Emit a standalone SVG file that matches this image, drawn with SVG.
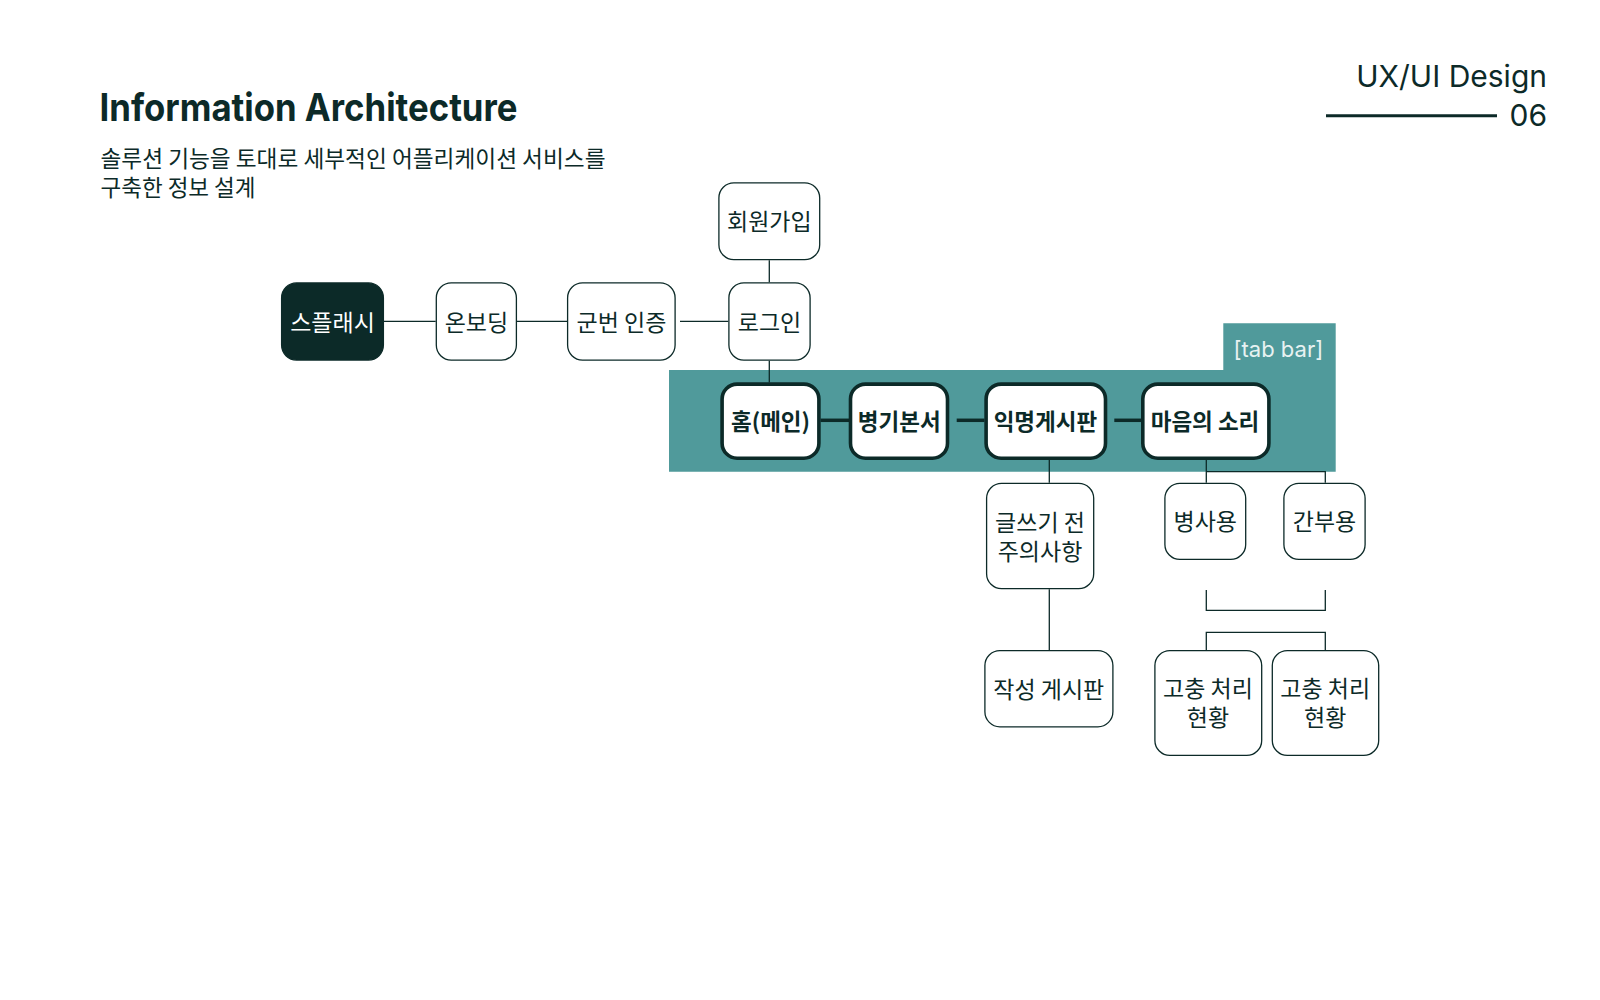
<svg xmlns="http://www.w3.org/2000/svg" width="1600" height="1000" viewBox="0 0 1600 1000">
  <style>
    .bg { fill: #ffffff; }
    .title { font-family: Inter, "Liberation Sans", sans-serif; font-weight: 700; font-size: 38px; fill: #0c2a28; }
    .sub { font-family: "Noto Sans CJK KR", "Noto Sans", sans-serif; font-size: 22.7px; fill: #0c2a28; }
    .corner { font-family: Inter, "Liberation Sans", sans-serif; font-size: 30px; fill: #0c2a28; }
    .box { fill: #ffffff; stroke: #0c2a28; stroke-width: 1.3; }
    .dark { fill: #0c2a28; stroke: #0c2a28; stroke-width: 1.3; }
    .tab { fill: #ffffff; stroke: #0c2a28; stroke-width: 3.6; }
    .lbl { font-family: "Noto Sans CJK KR", "Noto Sans", sans-serif; font-size: 23px; fill: #0c2a28; text-anchor: middle; }
    .lblw { font-family: "Noto Sans CJK KR", "Noto Sans", sans-serif; font-size: 23px; fill: #ffffff; text-anchor: middle; }
    .lblb { font-family: "Noto Sans CJK KR", "Noto Sans", sans-serif; font-size: 22.5px; font-weight: 700; fill: #0c2a28; text-anchor: middle; }
    .band { fill: #509a9b; }
    .tabtxt { font-family: Inter, "Liberation Sans", sans-serif; font-size: 22px; fill: #e8f2f2; }
    .ln { fill: none; stroke: #0c2a28; stroke-width: 1.3; }
    .lnb { fill: none; stroke: #0c2a28; stroke-width: 3.5; }
  </style>
  <rect class="bg" x="0" y="0" width="1600" height="1000"/>

  <g id="header">
    <text class="title" x="99.5" y="120.7" textLength="418" lengthAdjust="spacingAndGlyphs">Information Architecture</text>
    <text class="sub" x="100.5" y="167" textLength="505" lengthAdjust="spacingAndGlyphs">솔루션 기능을 토대로 세부적인 어플리케이션 서비스를</text>
    <text class="sub" x="100.5" y="196" textLength="155" lengthAdjust="spacingAndGlyphs">구축한 정보 설계</text>
  </g>

  <g id="corner-label">
    <text class="corner" x="1547" y="86.7" text-anchor="end">UX/UI Design</text>
    <text class="corner" x="1547" y="126" text-anchor="end">06</text>
    <line x1="1326" y1="115.7" x2="1497" y2="115.7" stroke="#0c2a28" stroke-width="3"/>
  </g>

  <g id="tab-bar">
    <path class="band" d="M669 370 H1223.3 V323.3 H1335.7 V471.7 H669 Z"/>
    <text class="tabtxt" x="1233.5" y="356.5">[tab bar]</text>
  </g>

  <g id="connectors">
    <line class="ln" x1="384" y1="321.3" x2="435.7" y2="321.3"/>
    <line class="ln" x1="517" y1="321.3" x2="567" y2="321.3"/>
    <line class="ln" x1="680" y1="321.3" x2="728.3" y2="321.3"/>
    <line class="ln" x1="769.3" y1="260.3" x2="769.3" y2="282.3"/>
    <line class="ln" x1="769.3" y1="360.7" x2="769.3" y2="382.5"/>
    <line class="lnb" x1="820.5" y1="420.3" x2="849" y2="420.3"/>
    <line class="lnb" x1="956.7" y1="420.3" x2="984.5" y2="420.3"/>
    <line class="lnb" x1="1114.3" y1="420.3" x2="1141.2" y2="420.3"/>
    <line class="ln" x1="1049.3" y1="460" x2="1049.3" y2="482.7"/>
    <path class="ln" d="M1206.3 460 V482.7 M1206.3 471.7 H1325.3 V482.7"/>
    <line class="ln" x1="1049.3" y1="589.3" x2="1049.3" y2="650"/>
    <path class="ln" d="M1206.3 590 V610.3 H1325.3 V590"/>
    <path class="ln" d="M1206.3 650 V632.3 H1325.3 V650"/>
  </g>

  <g id="n-splash">
    <rect class="dark" x="281.6" y="282.9" width="101.8" height="77.2" rx="15"/>
    <text class="lblw" x="332.5" y="330.5">스플래시</text>
  </g>
  <g id="n-onboarding">
    <rect class="box" x="436.3" y="282.9" width="80.1" height="77.2" rx="15"/>
    <text class="lbl" x="476.4" y="330.5">온보딩</text>
  </g>
  <g id="n-auth">
    <rect class="box" x="567.6" y="282.9" width="107.5" height="77.2" rx="15"/>
    <text class="lbl" x="621.4" y="330.5">군번 인증</text>
  </g>
  <g id="n-login">
    <rect class="box" x="728.9" y="282.9" width="81.2" height="77.2" rx="15"/>
    <text class="lbl" x="769.5" y="330.5">로그인</text>
  </g>
  <g id="n-signup">
    <rect class="box" x="718.9" y="182.9" width="100.8" height="76.8" rx="15"/>
    <text class="lbl" x="769.3" y="230.3">회원가입</text>
  </g>

  <g id="n-home">
    <rect class="tab" x="722.1" y="384.1" width="96.8" height="74.1" rx="15"/>
    <text class="lblb" x="770.5" y="430">홈(메인)</text>
  </g>
  <g id="n-manual">
    <rect class="tab" x="850.5" y="384.1" width="97" height="74.1" rx="15"/>
    <text class="lblb" x="899.2" y="430">병기본서</text>
  </g>
  <g id="n-board">
    <rect class="tab" x="986.1" y="384.1" width="119.4" height="74.1" rx="15"/>
    <text class="lblb" x="1045.4" y="430">익명게시판</text>
  </g>
  <g id="n-voice">
    <rect class="tab" x="1142.8" y="384.1" width="126.1" height="74.1" rx="15"/>
    <text class="lblb" x="1205" y="430">마음의 소리</text>
  </g>

  <g id="n-notice">
    <rect class="box" x="986.6" y="483.3" width="107.1" height="105.4" rx="15"/>
    <text class="lbl" x="1040" y="531"><tspan x="1040" y="531">글쓰기 전</tspan><tspan x="1040" y="560">주의사항</tspan></text>
  </g>
  <g id="n-write">
    <rect class="box" x="984.9" y="650.6" width="128" height="76.2" rx="15"/>
    <text class="lbl" x="1048.8" y="697.7">작성 게시판</text>
  </g>
  <g id="n-soldier">
    <rect class="box" x="1164.9" y="483.3" width="80.8" height="76.1" rx="15"/>
    <text class="lbl" x="1205.3" y="530.3">병사용</text>
  </g>
  <g id="n-officer">
    <rect class="box" x="1283.9" y="483.3" width="81.2" height="76.1" rx="15"/>
    <text class="lbl" x="1324.5" y="530.3">간부용</text>
  </g>
  <g id="n-status1">
    <rect class="box" x="1154.9" y="650.6" width="106.8" height="104.8" rx="15"/>
    <text class="lbl" x="1208" y="697"><tspan x="1208" y="697">고충 처리</tspan><tspan x="1208" y="725.5">현황</tspan></text>
  </g>
  <g id="n-status2">
    <rect class="box" x="1272.3" y="650.6" width="106.4" height="104.8" rx="15"/>
    <text class="lbl" x="1325.2" y="697"><tspan x="1325.2" y="697">고충 처리</tspan><tspan x="1325.2" y="725.5">현황</tspan></text>
  </g>
</svg>
